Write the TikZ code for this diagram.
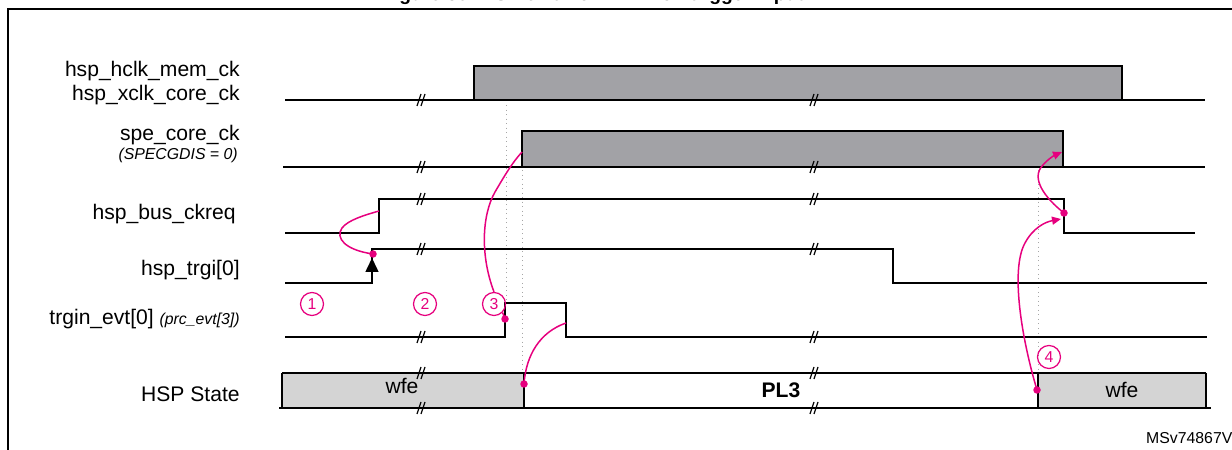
\documentclass[tikz,border=0pt]{standalone}
\usepackage{fontspec}
\setmainfont{Liberation Sans}
\usetikzlibrary{arrows.meta}

\definecolor{stpink}{RGB}{230,0,126}
\definecolor{clkgray}{RGB}{162,162,166}
\definecolor{stategray}{RGB}{212,212,212}

\tikzset{
  sig/.style={line width=0.3mm},
  lbl/.style={anchor=east, inner sep=0pt, font=\fontsize{12}{14}\selectfont},
  sublbl/.style={anchor=east, inner sep=0pt, font=\fontsize{9}{11}\selectfont\itshape},
  cause/.style={stpink, line width=0.3mm},
  dot/.style={circle, fill=stpink, inner sep=0pt, minimum size=1.5mm},
  num/.style={circle, draw=stpink, text=stpink, line width=0.25mm, inner sep=0pt, minimum size=4.6mm, font=\fontsize{9}{10}\selectfont},
  guide/.style={gray!70, dotted, line width=0.2mm},
  brk/.style={line width=0.25mm}
}

\begin{document}
\begin{tikzpicture}[x=0.2mm, y=-0.2mm]
\useasboundingbox (0,0) rectangle (1232,450);

%frame and title
\draw[line width=0.4mm] (8,470) -- (8,9) -- (1250,9);
\node[anchor=base, font=\fontsize{11}{13}\selectfont\bfseries] (title) at (593,1) {Figure 30. HSP exit from WFE on trigger input};

%signal names
\node[lbl] (hclk) at (240,71) {hsp\_hclk\_mem\_ck};
\node[lbl] (xclk) at (240,95) {hsp\_xclk\_core\_ck};
\node[lbl] (spe) at (240,135) {spe\_core\_ck};
\node[sublbl] (specg) at (238,155) {(SPECGDIS = 0)};
\node[lbl] (ckreq) at (236,214) {hsp\_bus\_ckreq};
\node[lbl] (trgi) at (240,270) {hsp\_trgi[0]};
\node[lbl] (trgin) at (240,319) {trgin\_evt[0] {\fontsize{9}{11}\selectfont\itshape (prc\_evt[3])}};
\node[lbl] (state) at (240,394) {HSP State};

%guides
\draw[guide] (506,105) -- (506,303);
\draw[guide] (522,170) -- (522,373);
\draw[guide] (1038,170) -- (1038,373);

%clocks
\draw[sig, fill=clkgray] (474,100) rectangle (1122,66);
\draw[sig] (285,100) -- (1205,100);
\draw[sig, fill=clkgray] (522,167) rectangle (1063,131);
\draw[sig] (283,167) -- (1205,167);

%requests and events
\draw[sig] (285,233) -- (379,233) -- (379,199) -- (1064,199) -- (1064,233) -- (1195,233);
\draw[sig] (285,283) -- (372,283) -- (372,249) -- (893,249) -- (893,283) -- (1207,283);
\draw[sig] (285,337) -- (505,337) -- (505,303) -- (566,303) -- (566,337) -- (1207,337);
\draw[sig, -{Triangle[length=2.8mm, width=2.6mm]}] (372,283) -- (372,258);

%state
\fill[stategray] (282,373) rectangle (524,408);
\fill[stategray] (1038,373) rectangle (1206,408);
\draw[sig] (282,373) -- (1206,373);
\draw[sig] (279,408) -- (1211,408);
\foreach \x in {282,524,1038,1206}
  \draw[sig] (\x,373) -- (\x,408);
\node[font=\fontsize{12}{14}\selectfont] (wfeA) at (402,386) {wfe};
\node[font=\fontsize{12}{14}\selectfont\bfseries] (pl3) at (781,390) {PL3};
\node[font=\fontsize{12}{14}\selectfont] (wfeB) at (1122,390) {wfe};

%breaks
\foreach \x in {421,814}
{
  \foreach \y in {100,167,199,249,337,373,408}
  {
    \draw[brk] (\x-4,\y+6) -- (\x,\y-6);
    \draw[brk] (\x,\y+6) -- (\x+4,\y-6);
  }
}

%cause points
\coordinate (trgiRise) at (373,254);
\coordinate (ckreqRise) at (379,211);
\coordinate (evtRise) at (505,319);
\coordinate (speRise) at (522,152);
\coordinate (evtFall) at (566,323);
\coordinate (runStart) at (524,384);
\coordinate (sleepStart) at (1037,390);
\coordinate (ckreqDrop) at (1061,219);
\coordinate (ckreqFall) at (1064,213);
\coordinate (speFall) at (1062,152);

%steps
\node[num] (m1) at (312,304) {1};
\node[num] (m2) at (425,304) {2};
\node[num] (m3) at (494,304) {3};
\node[num] (m4) at (1049,357) {4};

%causes
\draw[cause] (trgiRise) .. controls (345,250) and (335,238) .. (342,228) .. controls (348,220) and (365,215) .. (ckreqRise);
\draw[cause] (m3.north) .. controls (480,255) and (482,215) .. (495,192) .. controls (505,175) and (512,163) .. (speRise);
\draw[cause] (m3.south east) -- (evtRise);
\draw[cause] (evtFall) .. controls (540,332) and (526,355) .. (runStart);
\draw[cause, -{Triangle[length=1.8mm, width=1.6mm]}] (sleepStart) .. controls (1022,340) and (1010,270) .. (1025,243) .. controls (1033,228) and (1045,222) .. (ckreqDrop);
\draw[cause, -{Triangle[length=1.8mm, width=1.6mm]}] (ckreqFall) .. controls (1045,198) and (1030,178) .. (1043,165) .. controls (1048,159) and (1055,155) .. (speFall);

\node[dot] (d1) at (trgiRise) {};
\node[dot] (d2) at (evtRise) {};
\node[dot] (d3) at (runStart) {};
\node[dot] (d4) at (sleepStart) {};
\node[dot] (d5) at (ckreqFall) {};

\node[anchor=west, font=\fontsize{9}{11}\selectfont] (ref) at (1140,438) {MSv74867V1};
\end{tikzpicture}
\end{document}
